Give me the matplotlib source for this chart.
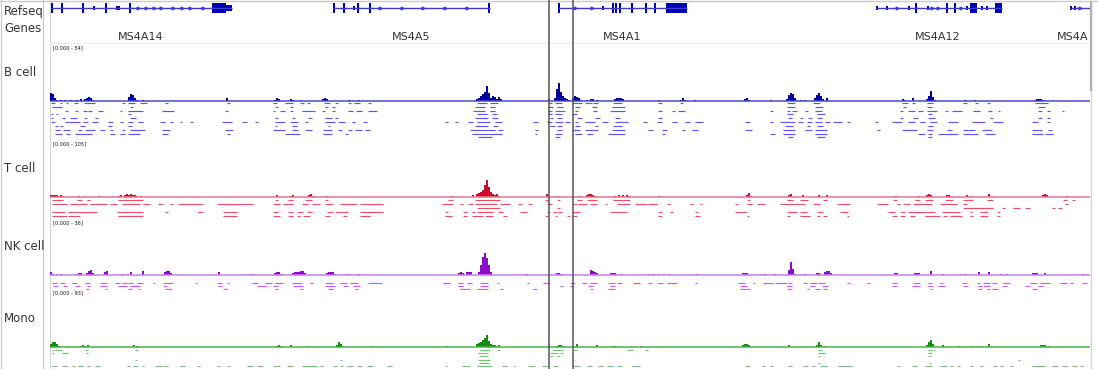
import matplotlib
matplotlib.use("Agg")
import matplotlib.pyplot as plt
from matplotlib.patches import Rectangle

# ---------------- data ----------------
region = (50, 1090)          # genomic window (browser position units)
roi_lines = [549, 573]       # region-of-interest markers

gene_names = ["MS4A14", "MS4A5", "MS4A1", "MS4A12", "MS4A"]
gene_start = [51, 333, 558, 876, 1070]
gene_end = [232, 490, 687, 1002, 1092]
gene_label_pos = [141, 411, 622, 938, 1057]
gene_label_ha = ["center", "center", "center", "center", "left"]
gene_tall_exons = [[52, 62, 83, 106, 130], [334, 344, 358, 370, 489],
                   [559, 613, 616, 620, 632, 646, 655], [916, 947, 955], []]
gene_small_exons = [[94, 117, 119], [354], [603], [877, 887, 909, 928, 967, 982, 987], [1071, 1075]]
gene_blocks = [[(212, 226, "tall"), (226, 232, "utr")], [], [(666, 687, "tall")],
               [(970, 977, "tall"), (995, 1002, "tall")], []]
gene_arrows = [[138, 146, 154, 161, 173, 182, 190, 203], [380, 402, 423, 445, 467],
               [575, 592], [897, 932, 938, 961], [1080]]

track_names = ["B cell", "T cell", "NK cell", "Mono"]
track_max = [54, 105, 36, 93]

b_cov_pos = [50, 52, 54, 56, 60, 64, 70, 76, 80, 84, 86, 88, 90, 92, 128, 130, 132, 134, 136, 142, 226,
             274, 276, 278, 290, 292, 300, 322, 324, 326, 348, 358, 476, 478, 480, 482, 484, 486, 488,
             490, 492, 494, 496, 498, 500, 548, 554, 556, 558, 560, 562, 564, 566, 568, 572, 574, 576,
             578, 580, 586, 590, 592, 596, 614, 616, 618, 620, 622, 658, 680, 682, 684, 694, 744, 746,
             748, 770, 786, 788, 790, 792, 794, 800, 804, 814, 816, 818, 820, 822, 826, 902, 904, 912,
             926, 928, 930, 932, 934, 964, 974, 1034, 1036, 1038, 1040, 1042]
b_cov_val = [9, 8, 4, 1, 1, 1, 1, 1, 2, 2, 4, 5, 4, 1, 5, 8, 7, 4, 1, 1, 4,
             1, 4, 2, 2, 1, 1, 2, 4, 2, 1, 1, 2, 4, 6, 8, 11, 18, 9,
             4, 6, 5, 2, 5, 2, 2, 4, 14, 21, 11, 6, 4, 2, 1, 4, 6, 5,
             4, 1, 1, 2, 2, 1, 2, 4, 4, 4, 2, 1, 1, 4, 1, 1, 2, 4,
             1, 1, 2, 7, 9, 8, 4, 1, 1, 4, 7, 9, 6, 2, 4, 2, 1, 4,
             2, 6, 12, 5, 1, 1, 1, 1, 2, 2, 2, 1]

t_cov_pos = [50, 52, 54, 56, 58, 60, 62, 78, 98, 118, 120, 124, 126, 128, 130, 132, 134, 136, 140, 276,
             290, 292, 308, 310, 312, 326, 450, 472, 476, 478, 480, 482, 484, 486, 488, 490, 492, 494,
             496, 498, 546, 556, 578, 586, 588, 590, 592, 594, 614, 618, 622, 626, 628, 658, 746, 748,
             750, 788, 790, 802, 818, 826, 895, 918, 926, 928, 930, 946, 948, 966, 970, 988, 1042, 1044,
             1046, 1066]
t_cov_val = [4, 4, 4, 4, 2, 4, 2, 2, 2, 2, 4, 4, 7, 4, 7, 4, 4, 2, 2, 4,
             2, 4, 4, 7, 2, 2, 2, 4, 7, 9, 11, 16, 27, 38, 22, 11, 7, 4,
             7, 2, 7, 2, 2, 4, 7, 7, 4, 2, 2, 4, 4, 4, 2, 2, 4, 9,
             2, 4, 7, 4, 4, 4, 2, 2, 4, 7, 4, 4, 4, 4, 2, 7, 4, 7,
             4, 2]

nk_cov_pos = [50, 52, 56, 60, 76, 78, 80, 86, 88, 90, 92, 104, 106, 122, 130, 142, 164, 166, 168, 170,
              218, 252, 274, 276, 278, 280, 292, 294, 296, 298, 300, 302, 304, 326, 328, 330, 332, 334,
              348, 358, 458, 460, 462, 466, 468, 470, 478, 480, 482, 484, 486, 488, 490, 526, 548, 556,
              558, 560, 572, 590, 592, 594, 596, 610, 612, 614, 620, 652, 658, 668, 696, 742, 744, 746,
              764, 774, 788, 790, 792, 794, 804, 816, 818, 824, 826, 828, 830, 894, 896, 914, 916, 918,
              930, 942, 964, 978, 988, 1000, 1006, 1032, 1034, 1036, 1044, 1082]
nk_cov_val = [2.3, 0.8, 0.8, 0.8, 0.8, 1.6, 1.6, 1.6, 3.1, 3.9, 1.6, 2.3, 3.1, 0.8, 2.3, 3.1, 2.3, 3.1, 3.1, 1.6,
              2.3, 0.8, 1.6, 2.3, 2.3, 0.8, 1.6, 2.3, 2.3, 2.3, 3.1, 3.1, 1.6, 1.6, 2.3, 2.3, 2.3, 0.8,
              0.8, 0.8, 1.6, 2.3, 1.6, 2.3, 2.3, 2.3, 2.3, 7.8, 14, 17, 13, 7.8, 2.3, 0.8, 0.8, 1.6,
              1.6, 0.8, 0.8, 3.9, 3.1, 2.3, 1.6, 1.6, 1.6, 1.6, 0.8, 0.8, 0.8, 0.8, 0.8, 1.6, 1.6, 1.6,
              0.8, 0.8, 3.9, 10, 4.7, 0.8, 0.8, 1.6, 1.6, 2.3, 3.1, 3.1, 1.6, 1.6, 1.6, 1.6, 1.6, 1.6,
              3.1, 0.8, 0.8, 2.3, 2.3, 0.8, 0.8, 1.6, 1.6, 1.6, 1.6, 0.8]

mono_cov_pos = [50, 52, 54, 56, 58, 66, 80, 82, 84, 87, 133, 136, 276, 278, 280, 290, 306, 336, 338, 340,
                342, 370, 446, 476, 478, 480, 482, 484, 486, 488, 490, 492, 494, 498, 548, 556, 558, 560,
                562, 576, 596, 612, 614, 640, 742, 744, 746, 748, 788, 816, 818, 820, 824, 926, 928, 930,
                932, 942, 958, 972, 980, 988, 1040, 1042, 1044, 1048]
mono_cov_val = [6, 10, 10, 6, 2, 2, 2, 4, 2, 4, 4, 2, 2, 4, 2, 4, 2, 4, 10, 6,
                2, 2, 2, 6, 8, 10, 14, 17, 23, 12, 6, 4, 4, 4, 4, 2, 4, 4,
                2, 6, 4, 2, 2, 2, 4, 6, 6, 4, 4, 4, 10, 4, 2, 4, 10, 14,
                6, 4, 2, 2, 2, 6, 4, 4, 4, 2]

# reads: one list of (start, end) per row
b_reads = [
    [(51, 55), (60, 62), (66, 68), (74, 78), (84, 95), (122, 125), (128, 135), (140, 147), (165, 168), (227, 230),
     (273, 277), (285, 293), (300, 304), (307, 310), (324, 330), (335, 338), (348, 351), (354, 360), (368, 371),
     (477, 487), (490, 498), (548, 552), (555, 562), (572, 582), (585, 592), (593, 598), (613, 622), (658, 662),
     (680, 683), (787, 795), (813, 820), (902, 908), (912, 915), (927, 933), (963, 967), (975, 978), (987, 990),
     (1035, 1048)],
    [(52, 62), (130, 133), (275, 278), (290, 293), (325, 328), (332, 335), (475, 485), (490, 495), (548, 553),
     (557, 563), (575, 580), (592, 597), (612, 625), (787, 795), (815, 823), (903, 906), (927, 932), (1038, 1045)],
    [(65, 68), (75, 78), (83, 87), (88, 92), (98, 103), (120, 122), (128, 143), (162, 174), (225, 228), (273, 275),
     (280, 285), (290, 293), (302, 315), (322, 325), (332, 335), (348, 353), (356, 362), (368, 377), (473, 485),
     (490, 495), (548, 552), (555, 565), (575, 578), (593, 597), (610, 625), (658, 662), (672, 675), (678, 685),
     (770, 773), (787, 790), (792, 797), (805, 808), (815, 822), (900, 903), (908, 915), (918, 923), (927, 937),
     (945, 948), (952, 962), (973, 980), (988, 992), (998, 1000), (1038, 1042), (1047, 1050), (1062, 1064)],
    [(51, 53), (56, 58), (128, 131), (477, 487), (492, 497), (548, 552), (555, 562), (573, 577), (787, 793),
     (817, 825), (928, 932)],
    [(51, 53), (62, 65), (70, 77), (84, 87), (95, 98), (130, 136), (275, 278), (292, 295), (308, 312), (325, 332),
     (335, 338), (475, 488), (492, 498), (550, 553), (557, 562), (577, 582), (595, 600), (615, 620), (658, 662),
     (788, 792), (800, 803), (808, 812), (817, 822), (900, 903), (913, 918), (928, 935), (990, 993), (1038, 1042),
     (1047, 1050)],
    [(51, 55), (65, 80), (83, 88), (92, 98), (108, 113), (120, 123), (128, 133), (138, 143), (160, 165), (170, 173),
     (180, 182), (190, 193), (222, 232), (242, 247), (255, 258), (275, 285), (290, 298), (305, 308), (325, 335),
     (338, 345), (352, 355), (363, 367), (445, 448), (455, 458), (468, 473), (477, 490), (495, 502), (533, 538),
     (547, 552), (555, 563), (565, 570), (575, 578), (585, 595), (602, 608), (615, 628), (643, 647), (657, 662),
     (672, 677), (685, 690), (695, 703), (745, 750), (770, 773), (780, 795), (798, 803), (807, 812), (815, 822),
     (825, 830), (833, 842), (847, 850), (875, 878), (892, 902), (908, 915), (920, 925), (930, 937), (948, 958),
     (972, 985), (993, 1003), (1032, 1038), (1047, 1050)],
    [(55, 58), (60, 63), (80, 85), (108, 112), (128, 132), (275, 277), (292, 297), (328, 330), (475, 488),
     (493, 498), (550, 555), (557, 562), (575, 580), (595, 598), (613, 622), (785, 793), (807, 810), (817, 823),
     (928, 933)],
    [(55, 60), (63, 70), (78, 82), (85, 95), (100, 105), (110, 113), (122, 125), (130, 145), (162, 170), (225, 233),
     (273, 285), (292, 298), (305, 312), (323, 332), (338, 342), (348, 352), (355, 362), (365, 370), (470, 495),
     (498, 503), (535, 538), (557, 562), (573, 580), (585, 598), (612, 625), (648, 653), (662, 667), (682, 685),
     (692, 698), (745, 752), (783, 795), (805, 812), (815, 827), (877, 880), (902, 917), (927, 933), (947, 952),
     (963, 975), (982, 992), (1032, 1042), (1048, 1052)],
    [(55, 62), (66, 70), (75, 92), (110, 115), (120, 125), (128, 140), (162, 168), (227, 230), (285, 300),
     (323, 332), (345, 348), (472, 502), (535, 537), (555, 562), (575, 582), (587, 593), (608, 625), (662, 665),
     (770, 775), (783, 795), (815, 827), (918, 925), (928, 932), (938, 958), (963, 978), (985, 995), (1032, 1043),
     (1045, 1053)],
    [(478, 492), (555, 560), (788, 793), (817, 825), (928, 932)],
]

t_reads = [
    [(52, 63), (77, 82), (87, 90), (118, 143), (275, 278), (288, 293), (305, 312), (325, 328), (448, 453),
     (475, 500), (545, 548), (557, 560), (577, 582), (587, 597), (613, 630), (747, 750), (787, 793), (800, 808),
     (823, 827), (893, 897), (915, 920), (925, 933), (945, 953), (963, 973), (987, 993), (1063, 1067), (1072, 1075)],
    [(52, 67), (70, 87), (90, 107), (110, 117), (122, 140), (143, 150), (158, 163), (170, 173), (178, 203),
     (217, 253), (273, 280), (283, 293), (302, 308), (312, 320), (325, 333), (340, 357), (360, 383), (442, 453),
     (460, 463), (468, 473), (475, 497), (500, 510), (518, 522), (528, 532), (547, 552), (573, 577), (578, 587),
     (590, 597), (605, 607), (617, 630), (635, 647), (648, 657), (667, 670), (690, 693), (700, 702), (735, 738),
     (747, 752), (757, 765), (780, 800), (800, 805), (813, 820), (837, 850), (877, 888), (897, 900), (903, 910),
     (913, 932), (940, 957), (963, 967), (1065, 1068)],
    [(477, 500), (557, 560), (963, 993), (1002, 1005), (1013, 1020), (1025, 1030), (1052, 1055), (1058, 1062)],
    [(52, 65), (68, 97), (117, 143), (165, 168), (198, 203), (223, 237), (273, 278), (288, 293), (297, 303),
     (307, 312), (327, 333), (335, 348), (360, 383), (445, 448), (463, 467), (472, 475), (477, 493), (498, 503),
     (520, 527), (547, 550), (553, 557), (558, 562), (573, 580), (610, 627), (658, 662), (670, 673), (695, 698),
     (735, 747), (787, 797), (800, 807), (817, 823), (840, 848), (888, 895), (900, 905), (908, 935), (942, 960),
     (970, 972), (980, 988), (997, 1000)],
    [(52, 67), (68, 80), (118, 143), (223, 237), (273, 280), (288, 293), (297, 300), (303, 310), (325, 330),
     (343, 347), (360, 370), (445, 452), (463, 467), (472, 483), (485, 493), (503, 507), (545, 548), (555, 557),
     (567, 570), (573, 577), (658, 662), (695, 700), (747, 749), (787, 790), (800, 810), (817, 820), (823, 827),
     (847, 849), (892, 897), (900, 905), (910, 915), (925, 940), (943, 947), (950, 962), (970, 973), (980, 988),
     (997, 1000)],
]

nk_reads = [
    [(52, 57), (60, 65), (72, 77), (85, 90), (100, 107), (115, 120), (122, 127), (128, 133), (137, 143), (153, 155),
     (163, 173), (195, 197), (217, 222), (227, 229), (252, 258), (265, 272), (275, 283), (292, 302), (310, 313),
     (325, 333), (340, 347), (350, 358), (368, 382), (443, 450), (458, 463), (467, 472), (480, 488), (497, 499),
     (527, 529), (543, 550), (570, 575), (582, 587), (590, 597), (608, 615), (617, 622), (633, 640), (648, 652),
     (657, 663), (667, 677), (695, 697), (738, 745), (753, 755), (763, 773), (775, 787), (788, 792), (803, 807),
     (810, 817), (818, 825), (847, 850), (867, 870), (892, 897), (913, 920), (928, 932), (940, 943), (962, 967),
     (977, 980), (983, 990), (992, 997), (1003, 1010), (1030, 1037), (1040, 1050), (1060, 1067), (1070, 1073),
     (1082, 1087)],
    [(53, 58), (63, 67), (75, 80), (87, 90), (100, 107), (118, 127), (130, 140), (163, 167), (218, 222), (257, 267),
     (273, 278), (293, 303), (325, 335), (343, 348), (353, 360), (458, 463), (480, 488), (560, 563), (570, 573),
     (588, 593), (610, 615), (740, 747), (787, 792), (810, 815), (822, 828), (892, 897), (912, 920), (928, 933),
     (938, 945), (963, 968), (978, 982), (983, 990), (1002, 1007), (1025, 1030), (1038, 1043)],
    [(86, 89), (105, 107), (128, 132), (138, 140), (165, 172), (223, 227), (275, 278), (300, 303), (328, 333),
     (355, 358), (460, 470), (477, 488), (500, 503), (533, 537), (590, 593), (608, 615), (740, 750), (787, 792),
     (807, 809), (815, 820), (823, 827), (930, 932), (978, 982), (987, 990), (992, 998), (1032, 1037)],
]

mono_reads = [
    [(52, 54), (55, 62), (85, 88), (135, 138), (480, 490), (497, 500), (552, 563), (573, 577), (627, 633),
     (645, 648), (818, 822), (928, 932), (933, 935)],
    [(52, 54), (62, 68), (86, 88), (478, 488), (550, 558), (560, 563), (818, 825), (928, 932)],
    [(480, 488), (550, 553), (557, 560), (818, 820), (928, 931)],
    [(135, 137), (340, 342), (478, 490), (572, 574), (1018, 1020)],
    [(479, 489), (818, 820), (929, 931)],
    [(52, 57), (62, 67), (72, 75), (78, 83), (87, 90), (95, 100), (127, 130), (133, 138), (142, 144), (155, 162),
     (163, 168), (180, 185), (197, 200), (217, 220), (227, 230), (247, 253), (257, 263), (273, 280), (287, 293),
     (302, 317), (320, 323), (333, 337), (340, 343), (347, 353), (357, 362), (367, 373), (387, 392), (445, 447),
     (462, 470), (477, 492), (502, 507), (513, 515), (528, 535), (542, 547), (553, 558), (573, 580), (587, 592),
     (598, 603), (607, 613), (617, 622), (632, 640), (745, 750), (762, 765), (770, 773), (788, 792), (803, 808),
     (812, 815), (820, 827), (838, 852), (897, 900), (912, 917), (925, 932), (940, 947), (950, 953), (957, 960),
     (970, 973), (980, 983), (993, 997), (1000, 1003), (1010, 1013), (1032, 1045), (1052, 1058), (1062, 1067),
     (1072, 1077), (1080, 1083)],
]

# ---------------- styling / layout ----------------
W, H = 1098, 369
fig = plt.figure(figsize=(W / 100, H / 100), dpi=100)
fig.patch.set_facecolor("white")


def ax_px(x0, y0, x1, y1, zorder=1):
    a = fig.add_axes([x0 / W, 1 - y1 / H, (x1 - x0) / W, (y1 - y0) / H], zorder=zorder)
    a.set_axis_off()
    a.patch.set_alpha(0)
    return a


DX0, DX1 = 50, 1090

# frame / panel lines
frame = ax_px(0, 0, W, H, zorder=0)
frame.set_xlim(0, W)
frame.set_ylim(H, 0)
frame.plot([0.5, 0.5], [0, H], color="#c8c8c8", lw=0.8)
frame.plot([43, 43], [0, H], color="#c4c4c4", lw=0.8)
frame.plot([50, 50], [0, H], color="#d4d4d4", lw=0.8)
frame.plot([0, W], [0.8, 0.8], color="#c8c8c8", lw=1.0)
frame.plot([DX0, DX1], [43, 43], color="#eeeeee", lw=0.8)
frame.plot([1091, 1091], [0, H], color="#d6d6d6", lw=1.0)
frame.plot([1091, 1091], [3, 90], color="#b0b0b0", lw=1.6)

label_kw = dict(fontsize=8.5, color="#333333", family="DejaVu Sans", va="center", ha="left")
frame.text(4, 12, "Refseq", **label_kw)
frame.text(4, 29, "Genes", **label_kw)

# ---------------- gene track ----------------
gax = ax_px(DX0, 0, DX1, 43, zorder=2)
gax.set_xlim(*region)
gax.set_ylim(43, 0)
exon_dark = "#0000b4"
line_col = "#3c3cc8"
for i, name in enumerate(gene_names):
    gy = 8
    gax.plot([gene_start[i], min(gene_end[i], region[1])], [gy, gy], color=line_col, lw=1.0,
             solid_capstyle="butt")
    for x in gene_tall_exons[i]:
        gax.add_patch(Rectangle((x - 0.6, gy - 5), 1.3, 10, color=exon_dark, lw=0))
    for x in gene_small_exons[i]:
        gax.add_patch(Rectangle((x - 0.6, gy - 2), 1.3, 4, color=exon_dark, lw=0))
    for (s, e, kind) in gene_blocks[i]:
        h = 10 if kind == "tall" else 6
        gax.add_patch(Rectangle((s, gy - h / 2), e - s, h, color=exon_dark, lw=0))
    gax.plot(gene_arrows[i], [gy] * len(gene_arrows[i]), ls="none", marker=">", ms=2.0,
             color=line_col, mec=line_col)
    gax.text(gene_label_pos[i], 37, name, fontsize=8, color="#333333", ha=gene_label_ha[i],
             va="center", family="DejaVu Sans", clip_on=True)

# ---------------- signal tracks ----------------
tracks = [
    dict(cov_pos=b_cov_pos, cov_val=b_cov_val, reads=b_reads, top=55, base=101, label_y=72,
         scale_y=48, row_top=101.2, row_step=3.8,
         cov="#00009c", base_col="#4a4ad0", read="#5a5ae0"),
    dict(cov_pos=t_cov_pos, cov_val=t_cov_val, reads=t_reads, top=150, base=197, label_y=168,
         scale_y=144, row_top=197.8, row_step=4.1,
         cov="#c8102e", base_col="#e8748e", read="#e85068"),
    dict(cov_pos=nk_cov_pos, cov_val=nk_cov_val, reads=nk_reads, top=229, base=275, label_y=247,
         scale_y=223, row_top=281, row_step=3.0,
         cov="#8c0cc8", base_col="#c87ee8", read="#bc60f2"),
    dict(cov_pos=mono_cov_pos, cov_val=mono_cov_val, reads=mono_reads, top=299, base=347, label_y=319,
         scale_y=293, row_top=348.4, row_step=3.2,
         cov="#109010", base_col="#4cb04c", read="#74c074"),
]

for k, tr in enumerate(tracks):
    frame.text(4, tr["label_y"], track_names[k], **label_kw)
    frame.text(53, tr["scale_y"], f"[0.000 - {track_max[k]}]", fontsize=3.6, color="#111111",
               ha="left", va="center", family="DejaVu Sans")

    cax = ax_px(DX0, tr["top"], DX1, tr["base"], zorder=3)
    cax.set_xlim(*region)
    cax.set_ylim(0, track_max[k])
    cax.bar(tr["cov_pos"], tr["cov_val"], width=2.0, align="edge", color=tr["cov"], lw=0)

    nrows = len(tr["reads"])
    rax = ax_px(DX0, tr["row_top"], DX1, tr["row_top"] + nrows * tr["row_step"], zorder=3)
    rax.set_xlim(*region)
    rax.set_ylim(nrows, 0)
    for r, row in enumerate(tr["reads"]):
        starts = [s for s, e in row]
        ends = [e for s, e in row]
        rax.hlines([r + 0.5] * len(row), starts, ends, color=tr["read"], lw=0.85)

    # baseline drawn on top of coverage
    bax = ax_px(DX0, tr["top"], DX1, tr["base"] + 1, zorder=4)
    bax.set_xlim(*region)
    bax.set_ylim(-track_max[k] / 46.0, track_max[k])
    bax.axhline(0, color=tr["base_col"], lw=1.1)

# region-of-interest lines
vax = ax_px(DX0, 0, DX1, H, zorder=6)
vax.set_xlim(*region)
vax.set_ylim(0, 1)
for x in roi_lines:
    vax.axvline(x, color="#555555", lw=1.1)

fig.savefig("out.png", dpi=100, facecolor="white")
